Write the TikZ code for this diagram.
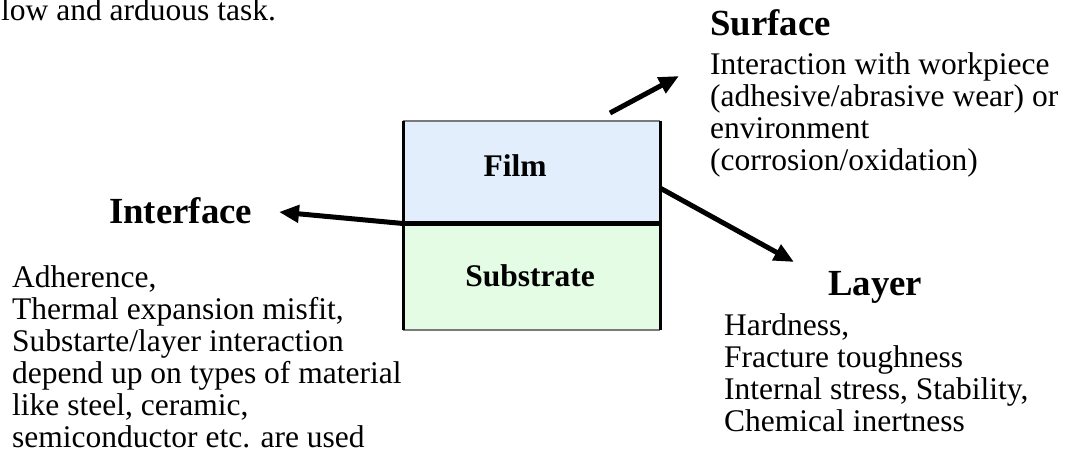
\documentclass[tikz,border=0pt]{standalone}
\usepackage{fontspec}
\setmainfont{Liberation Serif}
\usetikzlibrary{arrows.meta}
\definecolor{filmc}{HTML}{E3EEFC}
\definecolor{subc}{HTML}{E4FCE4}
\definecolor{edgec}{HTML}{7A7A7A}
\begin{document}
\begin{tikzpicture}[x=1pt,y=-1pt,
  layerbox/.style={minimum width=257pt, inner sep=0pt, anchor=north west, draw=none},
  body/.style={font=\fontsize{31.5}{#1}\selectfont, inner sep=0pt, align=left, anchor=base west},
  head/.style={font=\fontsize{36.8}{40}\selectfont\bfseries, inner sep=0pt, anchor=base west},
  lab/.style={font=\fontsize{31.5}{34}\selectfont\bfseries, inner sep=0pt, anchor=base},
  arr/.style={line width=5pt, -{Triangle[length=20pt,width=17pt]}}]
\useasboundingbox (0,0) rectangle (1067,473);
% layered box
\node[layerbox, fill=filmc, minimum height=102pt] (film) at (403,121) {};
\node[layerbox, fill=subc, minimum height=107pt] (sub) at (403,223) {};
\draw[edgec, line width=2pt] (film.north west) -- (film.north east);
\draw[edgec, line width=2pt] (sub.south west) -- (sub.south east);
\draw[black, line width=3pt] (film.north west) -- (sub.south west);
\draw[black, line width=3pt] (film.north east) -- (sub.south east);
\draw[black, line width=5pt] (film.south west) -- (film.south east);
\node[lab] (filmlab) at (515,176) {Film};
\node[lab] (sublab) at (530,286) {Substrate};
% top fragment
\node[body=30.5] (top) at (1,21) {low and arduous task.};
% Surface (anchor = baseline of last line)
\node[head] (shead) at (710,36) {Surface};
\node[body=32] (sbody) at (710,171) {Interaction with workpiece\\(adhesive/abrasive wear) or\\environment\\(corrosion/oxidation)};
% Interface
\node[head] (ihead) at (109,223) {Interface};
\node[body=32] (ibody) at (12,447) {Adherence,\\Thermal expansion misfit,\\Substarte/layer interaction\\depend up on types of material\\like steel, ceramic,\\semiconductor etc. are used};
% Layer
\node[head] (lhead) at (828,295) {Layer};
\node[body=32] (lbody) at (724,431) {Hardness,\\Fracture toughness\\Internal stress, Stability,\\Chemical inertness};
% arrows
\coordinate (stail) at (610,113);
\coordinate (stip) at (679,76);
\coordinate (itip) at (279,212);
\coordinate (ltail) at (660,188);
\coordinate (ltip) at (794,262);
\draw[arr] (stail) -- (stip);
\draw[arr] (film.south west) ++(-1,0) -- (itip);
\draw[arr] (ltail) -- (ltip);
\end{tikzpicture}
\end{document}
